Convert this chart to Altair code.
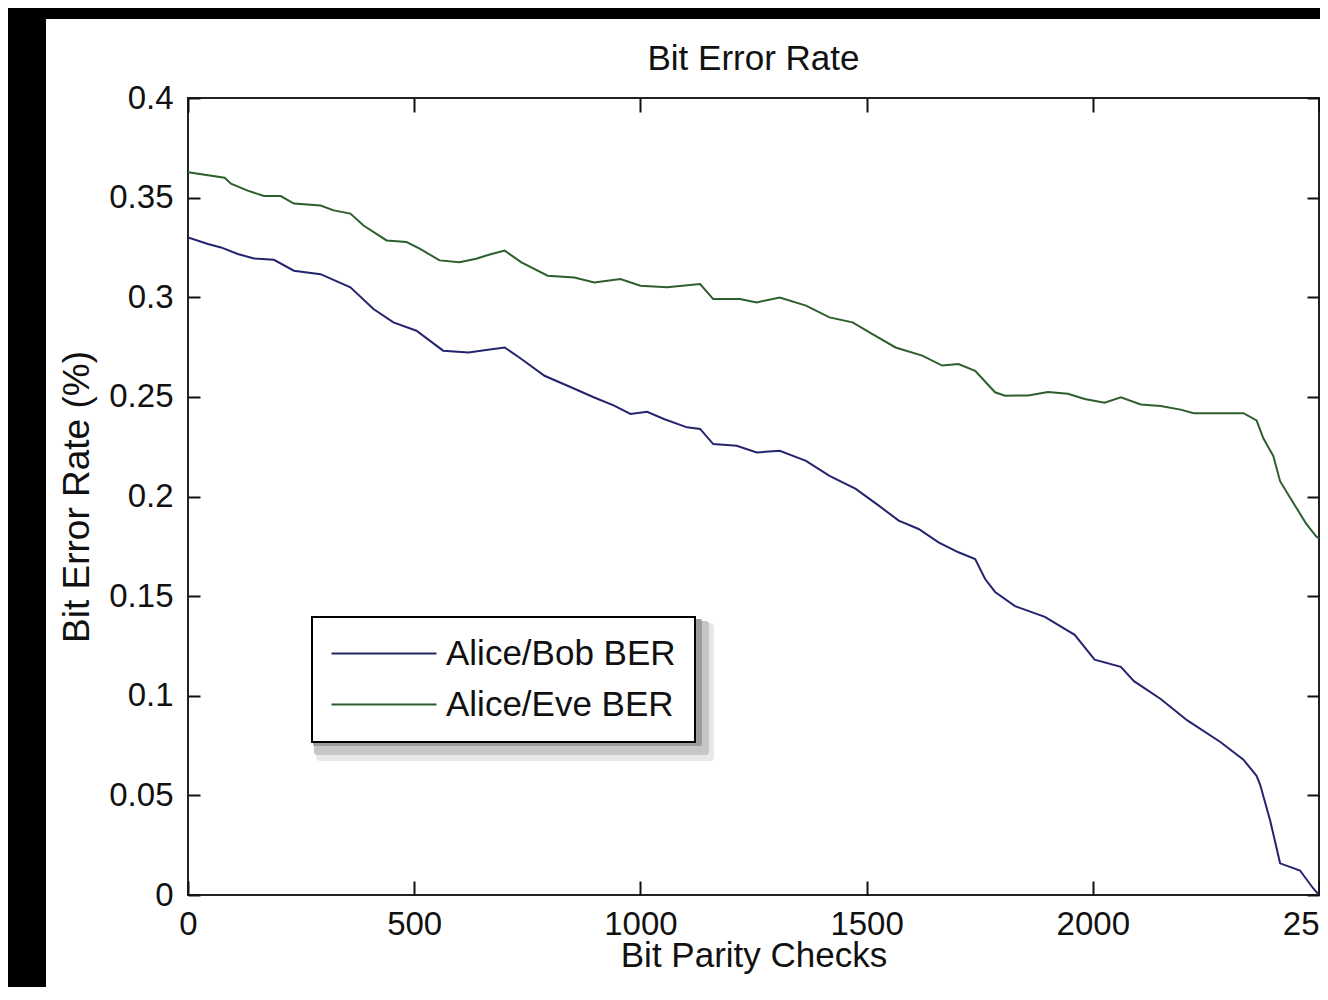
import altair as alt
import pandas as pd

# ---- data ----
series = ["Alice/Bob BER", "Alice/Eve BER"]
colors = ["#24246e", "#2d5e2d"]

x_bob = [0, 44, 73, 110, 146, 190, 234, 293, 359, 410, 454, 505, 564, 620, 663, 700,
         737, 788, 839, 898, 942, 978, 1015, 1052, 1103, 1132, 1161, 1213, 1257, 1308,
         1366, 1418, 1476, 1527, 1571, 1615, 1659, 1703, 1740, 1762, 1784, 1828, 1894,
         1960, 2004, 2062, 2091, 2150, 2209, 2282, 2333, 2362, 2370, 2392, 2414, 2458,
         2487, 2500]
y_bob = [0.330, 0.3267, 0.325, 0.3217, 0.3195, 0.3188, 0.3133, 0.3116, 0.305, 0.2941,
         0.2874, 0.2832, 0.2732, 0.2723, 0.2737, 0.2748, 0.269, 0.2606, 0.2556, 0.2497,
         0.2456, 0.2414, 0.2425, 0.2389, 0.2347, 0.2339, 0.2263, 0.2255, 0.2221, 0.2229,
         0.2179, 0.2104, 0.2038, 0.1954, 0.1879, 0.1837, 0.177, 0.172, 0.1686, 0.1586,
         0.1521, 0.145, 0.1396, 0.1306, 0.1181, 0.1145, 0.1073, 0.0984, 0.0876, 0.0768,
         0.0679, 0.0598, 0.0553, 0.0374, 0.0159, 0.0123, 0.0034, 0.0]

x_eve = [0, 81, 95, 132, 168, 205, 234, 293, 322, 359, 388, 439, 483, 513, 556, 600,
         637, 663, 700, 737, 795, 854, 898, 956, 1000, 1059, 1132, 1161, 1220, 1257,
         1308, 1366, 1418, 1469, 1513, 1564, 1623, 1667, 1703, 1740, 1784, 1806, 1857,
         1901, 1945, 1982, 2026, 2062, 2106, 2150, 2194, 2223, 2282, 2333, 2362, 2377,
         2399, 2414, 2443, 2472, 2494, 2500]
y_eve = [0.3627, 0.360, 0.357, 0.3535, 0.3508, 0.3508, 0.347, 0.346, 0.3436, 0.342,
         0.336, 0.3285, 0.3277, 0.3243, 0.3185, 0.3176, 0.3193, 0.3212, 0.3234, 0.3175,
         0.3108, 0.3099, 0.3074, 0.3091, 0.3058, 0.305, 0.3066, 0.2991, 0.2991, 0.2974,
         0.2999, 0.2958, 0.2899, 0.2874, 0.2815, 0.2748, 0.2707, 0.2657, 0.2665, 0.2631,
         0.2523, 0.2506, 0.2507, 0.2525, 0.2516, 0.2489, 0.2471, 0.2498, 0.2462, 0.2454,
         0.2436, 0.2418, 0.2418, 0.2418, 0.2382, 0.2292, 0.2203, 0.2077, 0.1969, 0.1862,
         0.1799, 0.179]

x_ticks = [0, 500, 1000, 1500, 2000, 2500]
y_ticks = [0, 0.05, 0.1, 0.15, 0.2, 0.25, 0.3, 0.35, 0.4]

df = pd.concat([
    pd.DataFrame({"x": x_bob, "y": y_bob, "s": series[0]}),
    pd.DataFrame({"x": x_eve, "y": y_eve, "s": series[1]}),
], ignore_index=True)

FONT = "Liberation Sans, Arial, Helvetica, sans-serif"
TXT = "#111111"
W, H = 1131, 797

xscale = alt.Scale(domain=[0, 2500], nice=False, zero=False)
yscale = alt.Scale(domain=[0, 0.4], nice=False)

one = pd.DataFrame({"k": [0]})


def prect(x1, x2, y1, y2, color, r=0):
    return alt.Chart(one).mark_rect(color=color, cornerRadius=r).encode(
        x=alt.value(x1), x2=alt.value(x2), y=alt.value(y1), y2=alt.value(y2))


# black screenshot border (left and top)
border_left = prect(-200, -142, -90, 900, "black")
border_top = prect(-200, 1200, -90, -79, "black")
# soft drop shadow under the legend box
sh1 = prect(128, 526, 525, 663, "#e8e8e8", 4)
sh2 = prect(126, 521, 523, 657, "#c6c6c6", 3)
sh3 = prect(125, 514, 521, 648, "#9c9c9c", 2)

lines = alt.Chart(df).mark_line(strokeWidth=2, clip=True).encode(
    x=alt.X("x:Q", scale=xscale, axis=alt.Axis(
        orient="bottom", values=x_ticks, format="d", labelFlush=False,
        offset=-14, tickSize=14, domain=False, labelPadding=13,
        title="Bit Parity Checks", titleBaseline="alphabetic", titleY=85,
        titleFontSize=35)),
    y=alt.Y("y:Q", scale=yscale, axis=alt.Axis(
        orient="left", values=y_ticks, format=".2~f", offset=-12, tickSize=12,
        domain=False, labelPadding=15, title="Bit Error Rate (%)", titleX=-112,
        titleY=398.5, titleAngle=270, titleBaseline="alphabetic",
        titleAlign="center", titleFontSize=37)),
    color=alt.Color("s:N", scale=alt.Scale(domain=series, range=colors),
                    legend=alt.Legend(
                        orient="none", legendX=124, legendY=519, title=None,
                        fillColor="white", strokeColor="black", padding=19,
                        symbolType="M-1.619,0H8.381", symbolSize=441,
                        symbolStrokeWidth=2, labelOffset=80, rowPadding=15,
                        labelLimit=500, labelFont=FONT, labelFontSize=35,
                        labelColor=TXT)),
)

mirror = alt.Chart(df).mark_line(opacity=0).encode(
    x=alt.X("x:Q", scale=xscale, axis=alt.Axis(
        orient="top", values=x_ticks, offset=-14, tickSize=14, labels=False,
        domain=False, title=None)),
    y=alt.Y("y:Q", scale=yscale, axis=alt.Axis(
        orient="right", values=y_ticks, offset=-12, tickSize=12, labels=False,
        domain=False, title=None)),
    detail="s:N",
)

chart = alt.layer(border_left, border_top, sh1, sh2, sh3, lines, mirror).resolve_axis(
    x="independent", y="independent"
).properties(
    width=W, height=H,
    autosize=alt.AutoSizeParams(type="none"),
    padding={"left": 180, "top": 90, "right": 1, "bottom": 92},
    background="white",
    title=alt.TitleParams("Bit Error Rate", font=FONT, fontSize=35, fontWeight="normal",
                          color=TXT, anchor="middle", frame="group", offset=-97,
                          baseline="alphabetic"),
).configure_view(
    stroke="#222222", strokeWidth=2
).configure_axis(
    labelFont=FONT, labelFontSize=33, labelColor=TXT, titleFont=FONT,
    titleFontWeight="normal", titleColor=TXT, tickColor="#111111", tickWidth=2,
    grid=False, zindex=1
).configure_legend(
    strokeWidth=2
)

chart.save("out.html", embed_options={"renderer": "svg", "actions": False})
